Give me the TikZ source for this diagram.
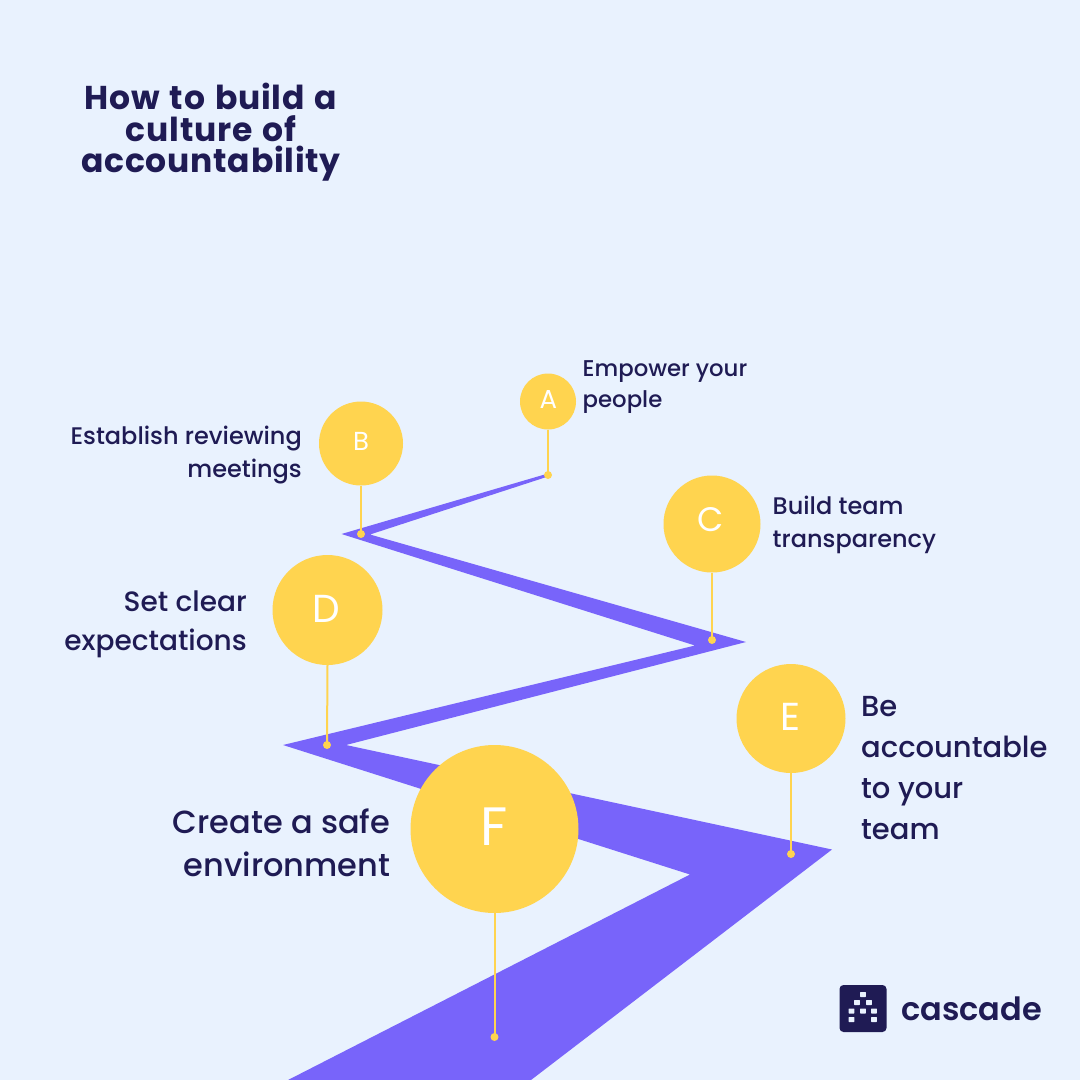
\documentclass[tikz,border=0pt]{standalone}
\usepackage{fontspec}
\setmainfont{Poppins Medium}[BoldFont=Poppins Bold]
\newfontfamily\semib{Poppins SemiBold}
\newfontfamily\regf{Poppins}
\newfontfamily\titlef{Poppins Bold}[LetterSpace=2.3,WordSpace=1.3]
\definecolor{bgc}{HTML}{E9F2FE}
\definecolor{navy}{HTML}{1F1B54}
\definecolor{road}{HTML}{7864FA}
\definecolor{sun}{HTML}{FFD44F}
\tikzset{
  x=1pt,y=-1pt,
  bub/.style={circle,fill=sun,inner sep=0pt},
  let/.style={text=white,inner sep=0pt},
  lbl/.style={text=navy,inner sep=0pt},
  stem/.style={draw=sun,line width=2pt},
  pin/.style={circle,fill=sun,inner sep=0pt,minimum size=8pt},
  cell/.style={fill=bgc,rounded corners=0.5pt}
}
\begin{document}
\begin{tikzpicture}
\useasboundingbox (0,0) rectangle (1080,1080);
\fill[bgc] (0,0) rectangle (1080,1080);
\fill[road] (548,476.5) -- (370,534.5) -- (746,642) -- (346,745) -- (832,849.5) -- (531,1080) -- (288,1080) -- (690,874.5) -- (283,745) -- (695,645.5) -- (341.5,534) -- (548,473.5) -- cycle;
\node[lbl,align=center,font=\fontsize{33}{31.5}\titlef] (title) at (211,132.5) {How to build a\\culture of\\accountability};
\coordinate (pa) at (548,475); \coordinate (pb) at (361,534); \coordinate (pc) at (712,640);
\coordinate (pd) at (327,745); \coordinate (pe) at (791,854); \coordinate (pf) at (494.5,1037);
\node[bub,minimum size=56pt] (A) at (548,401.5) {};
\node[bub,minimum size=84pt] (B) at (361,443.5) {};
\node[bub,minimum size=97pt] (C) at (712,524) {};
\node[bub,minimum size=110pt] (D) at (327.5,610) {};
\node[bub,minimum size=109pt] (E) at (791,718.5) {};
\node[bub,minimum size=168pt] (F) at (494.5,829) {};
\node[let,font=\fontsize{26}{26}\regf] (la) at (548.5,399.5) {A};
\node[let,font=\fontsize{26}{26}\regf] (lb) at (361,441) {B};
\node[let,font=\fontsize{34}{34}\regf] (lc) at (711,520) {C};
\node[let,font=\fontsize{39}{39}\regf] (ld) at (326,609) {D};
\node[let,font=\fontsize{39}{39}\regf] (le) at (790,717) {E};
\node[let,font=\fontsize{54}{54}\regf] (lf) at (494,827) {F};
\foreach \a/\b in {A/pa,B/pb,C/pc,D/pd,E/pe,F/pf}{
  \draw[stem] (\a.south) -- (\b);
  \node[pin] at (\b) {};
}
\node[lbl,anchor=west,align=left,font=\fontsize{22.8}{31}\selectfont] (ta) at (582.5,387) {Empower your\\people};
\node[lbl,anchor=east,align=right,font=\fontsize{24}{33}\selectfont] (tb) at (302,455) {Establish reviewing\\meetings};
\node[lbl,anchor=west,align=left,font=\fontsize{24}{32.5}\selectfont] (tc) at (772.5,525) {Build team\\transparency};
\node[lbl,anchor=east,align=right,font=\fontsize{28}{39}\selectfont] (td) at (247,624) {Set clear\\expectations};
\node[lbl,anchor=west,align=left,font=\fontsize{29}{41}\selectfont] (te) at (861,768) {Be\\accountable\\to your\\team};
\node[lbl,anchor=east,align=right,font=\fontsize{32}{43.5}\selectfont] (tf) at (390.5,843) {Create a safe\\environment};
\fill[navy,rounded corners=4pt] (839.5,985) rectangle (886.5,1032);
\foreach \x/\y in {863/994.5,857/1002.5,869/1002.5,851.5/1011,863/1011,874/1011,851.5/1019.5,874/1019.5}
  \fill[cell] (\x-2.8,\y-2.5) rectangle (\x+2.8,\y+2.5);
\node[lbl,anchor=west,font=\fontsize{32}{32}\semib] (logo) at (901,1009) {cascade};
\end{tikzpicture}
\end{document}
